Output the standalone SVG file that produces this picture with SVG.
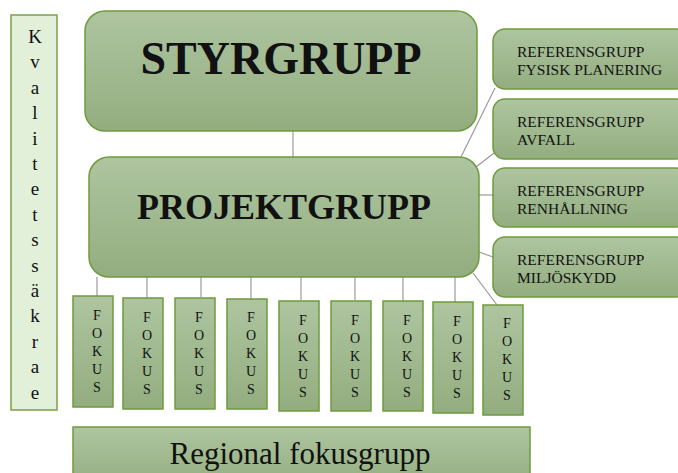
<svg xmlns="http://www.w3.org/2000/svg" width="678" height="473" viewBox="0 0 678 473">
<defs>
<linearGradient id="g" x1="0" y1="0" x2="0" y2="1">
<stop offset="0" stop-color="#aec5a0"/>
<stop offset="1" stop-color="#93ad7f"/>
</linearGradient>
<style>
.box{fill:url(#g);stroke:#6e9b3e;stroke-width:1.5}
.k{fill:#e2efd9;stroke:#7aa14a;stroke-width:1.5}
.t{font-family:"Liberation Serif",serif;fill:#111}
.b{font-weight:bold}
.ref{font-size:15.5px}
.f{font-size:14px;text-anchor:middle}
.c{stroke:#9a9a9a;stroke-width:1.2;fill:none}
</style>
</defs>
<rect width="678" height="473" fill="#fff"/>
<g id="connectors">
<line class="c" x1="293" y1="131" x2="293" y2="157"/>
<line class="c" x1="461" y1="157" x2="495" y2="88"/>
<line class="c" x1="476" y1="167" x2="494" y2="153"/>
<line class="c" x1="479" y1="195" x2="493" y2="195"/>
<line class="c" x1="479" y1="252" x2="493" y2="257"/>
<line class="c" x1="473" y1="273" x2="497" y2="305"/>
<line class="c" x1="97" y1="277" x2="97" y2="296"/>
<line class="c" x1="147" y1="277" x2="147" y2="303"/>
<line class="c" x1="201" y1="277" x2="201" y2="297"/>
<line class="c" x1="251" y1="277" x2="251" y2="303"/>
<line class="c" x1="301" y1="273" x2="301" y2="300"/>
<line class="c" x1="355" y1="273" x2="355" y2="300"/>
<line class="c" x1="403" y1="277" x2="403" y2="304"/>
<line class="c" x1="455" y1="277" x2="455" y2="302"/>
</g>
<g id="kvalitetssakrare">
<rect class="k" x="11" y="15" width="46" height="395"/>
<text class="t" font-size="19" text-anchor="middle" x="35">
<tspan x="35" y="43">K</tspan><tspan x="35" y="68">v</tspan><tspan x="35" y="94">a</tspan><tspan x="35" y="119">l</tspan><tspan x="35" y="145">i</tspan><tspan x="35" y="170">t</tspan><tspan x="35" y="195">e</tspan><tspan x="35" y="221">t</tspan><tspan x="35" y="246">s</tspan><tspan x="35" y="272">s</tspan><tspan x="35" y="297">ä</tspan><tspan x="35" y="322">k</tspan><tspan x="35" y="348">r</tspan><tspan x="35" y="373">a</tspan><tspan x="35" y="399">e</tspan>
</text>
</g>
<g id="styrgrupp">
<rect class="box" x="85" y="11" width="392" height="120" rx="20"/>
<text class="t b" font-size="46" x="281" y="74" text-anchor="middle">STYRGRUPP</text>
</g>
<g id="projektgrupp">
<rect class="box" x="89" y="157" width="390" height="120" rx="20"/>
<text class="t b" font-size="36" x="284" y="219" text-anchor="middle">PROJEKTGRUPP</text>
</g>
<g id="ref1">
<rect class="box" x="493" y="29" width="195" height="60" rx="12"/>
<text class="t ref"><tspan x="517" y="57">REFERENSGRUPP</tspan><tspan x="517" y="75">FYSISK PLANERING</tspan></text>
</g>
<g id="ref2">
<rect class="box" x="493" y="99" width="195" height="60" rx="12"/>
<text class="t ref"><tspan x="517" y="127">REFERENSGRUPP</tspan><tspan x="517" y="145">AVFALL</tspan></text>
</g>
<g id="ref3">
<rect class="box" x="493" y="168" width="195" height="59" rx="12"/>
<text class="t ref"><tspan x="517" y="196">REFERENSGRUPP</tspan><tspan x="517" y="214">RENHÅLLNING</tspan></text>
</g>
<g id="ref4">
<rect class="box" x="493" y="237" width="195" height="60" rx="12"/>
<text class="t ref"><tspan x="517" y="265">REFERENSGRUPP</tspan><tspan x="517" y="283">MILJÖSKYDD</tspan></text>
</g>
<g id="fokus1">
<rect class="box" x="73" y="296" width="40" height="111"/>
<text class="t f"><tspan x="97" y="320">F</tspan><tspan x="97" y="338">O</tspan><tspan x="97" y="356">K</tspan><tspan x="97" y="374">U</tspan><tspan x="97" y="392">S</tspan></text>
</g>
<g id="fokus2">
<rect class="box" x="123" y="298" width="40" height="111"/>
<text class="t f"><tspan x="147" y="322">F</tspan><tspan x="147" y="340">O</tspan><tspan x="147" y="358">K</tspan><tspan x="147" y="376">U</tspan><tspan x="147" y="394">S</tspan></text>
</g>
<g id="fokus3">
<rect class="box" x="175" y="298" width="40" height="111"/>
<text class="t f"><tspan x="199" y="322">F</tspan><tspan x="199" y="340">O</tspan><tspan x="199" y="358">K</tspan><tspan x="199" y="376">U</tspan><tspan x="199" y="394">S</tspan></text>
</g>
<g id="fokus4">
<rect class="box" x="227" y="299" width="40" height="110"/>
<text class="t f"><tspan x="251" y="322">F</tspan><tspan x="251" y="340">O</tspan><tspan x="251" y="358">K</tspan><tspan x="251" y="376">U</tspan><tspan x="251" y="394">S</tspan></text>
</g>
<g id="fokus5">
<rect class="box" x="279" y="301" width="40" height="110"/>
<text class="t f"><tspan x="303" y="325">F</tspan><tspan x="303" y="343">O</tspan><tspan x="303" y="361">K</tspan><tspan x="303" y="379">U</tspan><tspan x="303" y="397">S</tspan></text>
</g>
<g id="fokus6">
<rect class="box" x="331" y="301" width="40" height="110"/>
<text class="t f"><tspan x="355" y="325">F</tspan><tspan x="355" y="343">O</tspan><tspan x="355" y="361">K</tspan><tspan x="355" y="379">U</tspan><tspan x="355" y="397">S</tspan></text>
</g>
<g id="fokus7">
<rect class="box" x="383" y="301" width="40" height="110"/>
<text class="t f"><tspan x="407" y="325">F</tspan><tspan x="407" y="343">O</tspan><tspan x="407" y="361">K</tspan><tspan x="407" y="379">U</tspan><tspan x="407" y="397">S</tspan></text>
</g>
<g id="fokus8">
<rect class="box" x="433" y="302" width="40" height="111"/>
<text class="t f"><tspan x="457" y="326">F</tspan><tspan x="457" y="344">O</tspan><tspan x="457" y="362">K</tspan><tspan x="457" y="380">U</tspan><tspan x="457" y="398">S</tspan></text>
</g>
<g id="fokus9">
<rect class="box" x="483" y="305" width="40" height="110"/>
<text class="t f"><tspan x="507" y="328">F</tspan><tspan x="507" y="346">O</tspan><tspan x="507" y="364">K</tspan><tspan x="507" y="382">U</tspan><tspan x="507" y="400">S</tspan></text>
</g>
<g id="regional">
<rect class="box" x="73" y="427" width="457" height="60"/>
<text class="t" font-size="31" x="300" y="464" text-anchor="middle">Regional fokusgrupp</text>
</g>
</svg>
